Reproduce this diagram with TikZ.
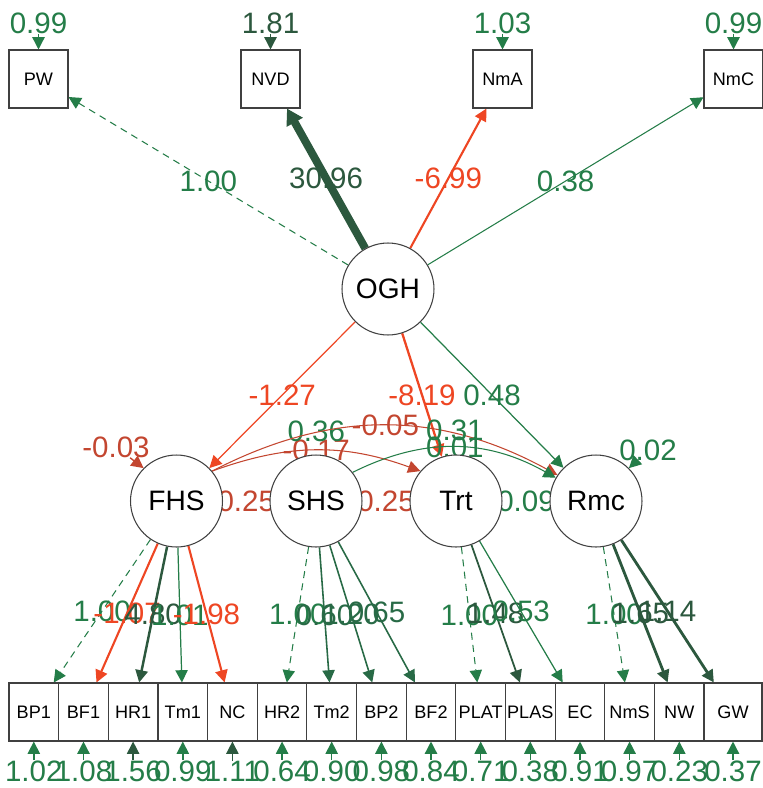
\documentclass[tikz,border=0pt]{standalone}
\usepackage{fontspec}
\setmainfont{Liberation Sans}
\usepackage{xcolor}
\usetikzlibrary{arrows.meta}
\pgfdeclarelayer{background}
\pgfsetlayers{background,main}

\definecolor{pgreen}{RGB}{36,125,72}
\definecolor{mgreen}{RGB}{40,106,70}
\definecolor{dgreen}{RGB}{44,88,62}
\definecolor{nred}{RGB}{238,70,35}
\definecolor{dred}{RGB}{195,70,48}

\tikzset{
	lat/.style={circle,draw=black!75,fill=white,line width=0.6pt,minimum size=1.84cm,inner sep=0pt,font=\fontsize{16}{16}\selectfont},
	man/.style={rectangle,draw=black!75,fill=white,line width=0.6pt,minimum width=1.18cm,minimum height=1.16cm,inner sep=0pt,font=\fontsize{10.3}{11}\selectfont},
	ind/.style={man,minimum width=0.993cm},
	lab/.style={inner sep=0pt,font=\fontsize{16.8}{17}\selectfont},
	reg/.style={-{Triangle[length=7pt,width=7pt]},line width=0.6pt},
	dashreg/.style={reg,dash pattern=on 4pt off 3pt},
	res/.style={reg,line width=0.8pt},
	cov/.style={line width=0.6pt}
}

\begin{document}
\begin{tikzpicture}[x=0.02cm,y=-0.02cm]
	\useasboundingbox (0,0) rectangle (763,788);

	% OGH and its indicators
	\node[man] (PW) at (38.5,79) {PW};
	\node[man] (NVD) at (270.5,79) {NVD};
	\node[man] (NmA) at (502.5,79) {NmA};
	\node[man] (NmC) at (733.5,79) {NmC};
	\node[lat] (OGH) at (388,289) {OGH};

	% Second order latents
	\node[lat] (FHS) at (176.5,501) {FHS};
	\node[lat] (SHS) at (316,501) {SHS};
	\node[lat] (Trt) at (456,501) {Trt};
	\node[lat] (Rmc) at (596,501) {Rmc};

	% Item row
	\node[ind] (BP1) at (33.8,712) {BP1};
	\node[ind] (BF1) at (83.5,712) {BF1};
	\node[ind] (HR1) at (133.1,712) {HR1};
	\node[ind] (Tm1) at (182.8,712) {Tm1};
	\node[ind] (NC) at (232.4,712) {NC};
	\node[ind] (HR2) at (282.1,712) {HR2};
	\node[ind] (Tm2) at (331.7,712) {Tm2};
	\node[ind] (BP2) at (381.4,712) {BP2};
	\node[ind] (BF2) at (431.0,712) {BF2};
	\node[ind] (PLAT) at (480.7,712) {PLAT};
	\node[ind] (PLAS) at (530.3,712) {PLAS};
	\node[ind] (EC) at (580.0,712) {EC};
	\node[ind] (NmS) at (629.6,712) {NmS};
	\node[ind] (NW) at (679.3,712) {NW};
	\node[ind,minimum width=1.16cm] (GW) at (733,712) {GW};

	% Residual variances
	\node[lab,text=pgreen] (vPW) at (38.5,23) {0.99};
	\node[lab,text=dgreen] (vNVD) at (270.5,23) {1.81};
	\node[lab,text=pgreen] (vNmA) at (502.5,23) {1.03};
	\node[lab,text=pgreen] (vNmC) at (733.5,23) {0.99};
	\node[lab,text=dred] (vFHS) at (116,447) {-0.03};
	\node[lab,text=pgreen] (vRmc) at (648,450) {0.02};
	\node[lab,text=pgreen] (vBP1) at (33.8,771) {1.02};
	\node[lab,text=pgreen] (vBF1) at (83.5,771) {1.08};
	\node[lab,text=pgreen] (vHR1) at (133.1,771) {1.56};
	\node[lab,text=pgreen] (vTm1) at (182.8,771) {0.99};
	\node[lab,text=pgreen] (vNC) at (232.4,771) {1.11};
	\node[lab,text=pgreen] (vHR2) at (282.1,771) {0.64};
	\node[lab,text=pgreen] (vTm2) at (331.7,771) {0.90};
	\node[lab,text=pgreen] (vBP2) at (381.4,771) {0.98};
	\node[lab,text=pgreen] (vBF2) at (431.0,771) {0.84};
	\node[lab,text=pgreen] (vPLAT) at (480.7,771) {0.71};
	\node[lab,text=pgreen] (vPLAS) at (530.3,771) {0.38};
	\node[lab,text=pgreen] (vEC) at (580.0,771) {0.91};
	\node[lab,text=pgreen] (vNmS) at (629.6,771) {0.97};
	\node[lab,text=pgreen] (vNW) at (679.3,771) {0.23};
	\node[lab,text=pgreen] (vGW) at (733,771) {0.37};

	\begin{pgfonlayer}{background}
	\draw[res,pgreen] (vPW) -- (PW);
	\draw[res,dgreen] (vNVD) -- (NVD);
	\draw[res,pgreen] (vNmA) -- (NmA);
	\draw[res,pgreen] (vNmC) -- (NmC);
	\draw[res,dred] (vFHS) -- (FHS.135);
	\draw[res,pgreen] (vRmc) -- (Rmc.45);
	\draw[res,pgreen] (vBP1) -- (BP1);
	\draw[res,pgreen] (vBF1) -- (BF1);
	\draw[res,dgreen] (vHR1) -- (HR1);
	\draw[res,pgreen] (vTm1) -- (Tm1);
	\draw[res,dgreen] (vNC) -- (NC);
	\draw[res,pgreen] (vHR2) -- (HR2);
	\draw[res,pgreen] (vTm2) -- (Tm2);
	\draw[res,pgreen] (vBP2) -- (BP2);
	\draw[res,pgreen] (vBF2) -- (BF2);
	\draw[res,pgreen] (vPLAT) -- (PLAT);
	\draw[res,pgreen] (vPLAS) -- (PLAS);
	\draw[res,pgreen] (vEC) -- (EC);
	\draw[res,pgreen] (vNmS) -- (NmS);
	\draw[res,pgreen] (vNW) -- (NW);
	\draw[res,pgreen] (vGW) -- (GW);

	% OGH loadings
	\draw[dashreg,pgreen] (OGH) -- node[lab,text=pgreen] {1.00} (PW);
	\draw[reg,dgreen,line width=4.5pt,-{Triangle[length=9pt,width=10pt]}] (OGH) -- node[lab,text=dgreen] {30.96} (NVD);
	\draw[reg,nred,line width=1.2pt] (OGH) -- node[lab,text=nred] {-6.99} (NmA);
	\draw[reg,pgreen] (OGH) -- node[lab,text=pgreen] {0.38} (NmC);

	% OGH to the latents
	\draw[reg,nred,line width=0.7pt] (OGH) -- node[lab,text=nred] {-1.27} (FHS);
	\draw[reg,nred,line width=1.3pt] (OGH) -- node[lab,text=nred] {-8.19} (Trt);
	\draw[reg,pgreen,line width=0.7pt] (OGH) -- node[lab,text=pgreen] {0.48} (Rmc);

	% Paths between latents
	\draw[reg,dred] (FHS.40) to[bend left=20] node[lab,text=dred] {-0.17} node[lab,text=pgreen,yshift=11pt] {0.36} (Trt.140);
	\draw[reg,dred] (FHS.40) to[bend left=28] node[lab,text=dred] {-0.05} (Rmc.146);
	\draw[reg,pgreen] (SHS.38) to[bend left=28] node[lab,text=pgreen] {0.01} node[lab,text=pgreen,yshift=9.5pt] {0.31} (Rmc.150);
	\draw[cov,dred] (FHS) -- node[lab,text=dred,fill=white] {0.25} (SHS);
	\draw[cov,dred] (SHS) -- node[lab,text=dred,fill=white] {0.25} (Trt);
	\draw[cov,pgreen] (Trt) -- node[lab,text=pgreen,fill=white] {0.09} (Rmc);

	% FHS items
	\draw[dashreg,pgreen] (FHS) -- node[lab,text=pgreen] {1.00} (BP1);
	\draw[reg,nred,line width=1.2pt] (FHS) -- node[lab,text=nred] {-1.07} (BF1);
	\draw[reg,dgreen,line width=1.4pt] (FHS) -- node[lab,text=dgreen] {4.80} (HR1);
	\draw[reg,pgreen,line width=0.7pt] (FHS) -- node[lab,text=pgreen] {1.01} (Tm1);
	\draw[reg,nred,line width=1.2pt] (FHS) -- node[lab,text=nred] {-1.98} (NC);

	% SHS items
	\draw[dashreg,pgreen] (SHS) -- node[lab,text=pgreen] {1.00} (HR2);
	\draw[reg,mgreen,line width=0.9pt] (SHS) -- node[lab,text=mgreen] {0.60} (Tm2);
	\draw[reg,mgreen,line width=0.9pt] (SHS) -- node[lab,text=mgreen] {1.20} (BP2);
	\draw[reg,mgreen,line width=0.9pt] (SHS) -- node[lab,text=mgreen] {0.65} (BF2);

	% Trt items
	\draw[dashreg,pgreen] (Trt) -- node[lab,text=pgreen] {1.00} (PLAT);
	\draw[reg,dgreen,line width=1pt] (Trt) -- node[lab,text=dgreen] {1.48} (PLAS);
	\draw[reg,pgreen,line width=0.7pt] (Trt) -- node[lab,text=pgreen] {0.53} (EC);

	% Rmc items
	\draw[dashreg,pgreen] (Rmc) -- node[lab,text=pgreen] {1.00} (NmS);
	\draw[reg,dgreen,line width=1.6pt] (Rmc) -- node[lab,text=dgreen] {1.65} (NW);
	\draw[reg,dgreen,line width=1.6pt] (Rmc) -- node[lab,text=dgreen] {1.14} (GW);
	\end{pgfonlayer}
\end{tikzpicture}
\end{document}
